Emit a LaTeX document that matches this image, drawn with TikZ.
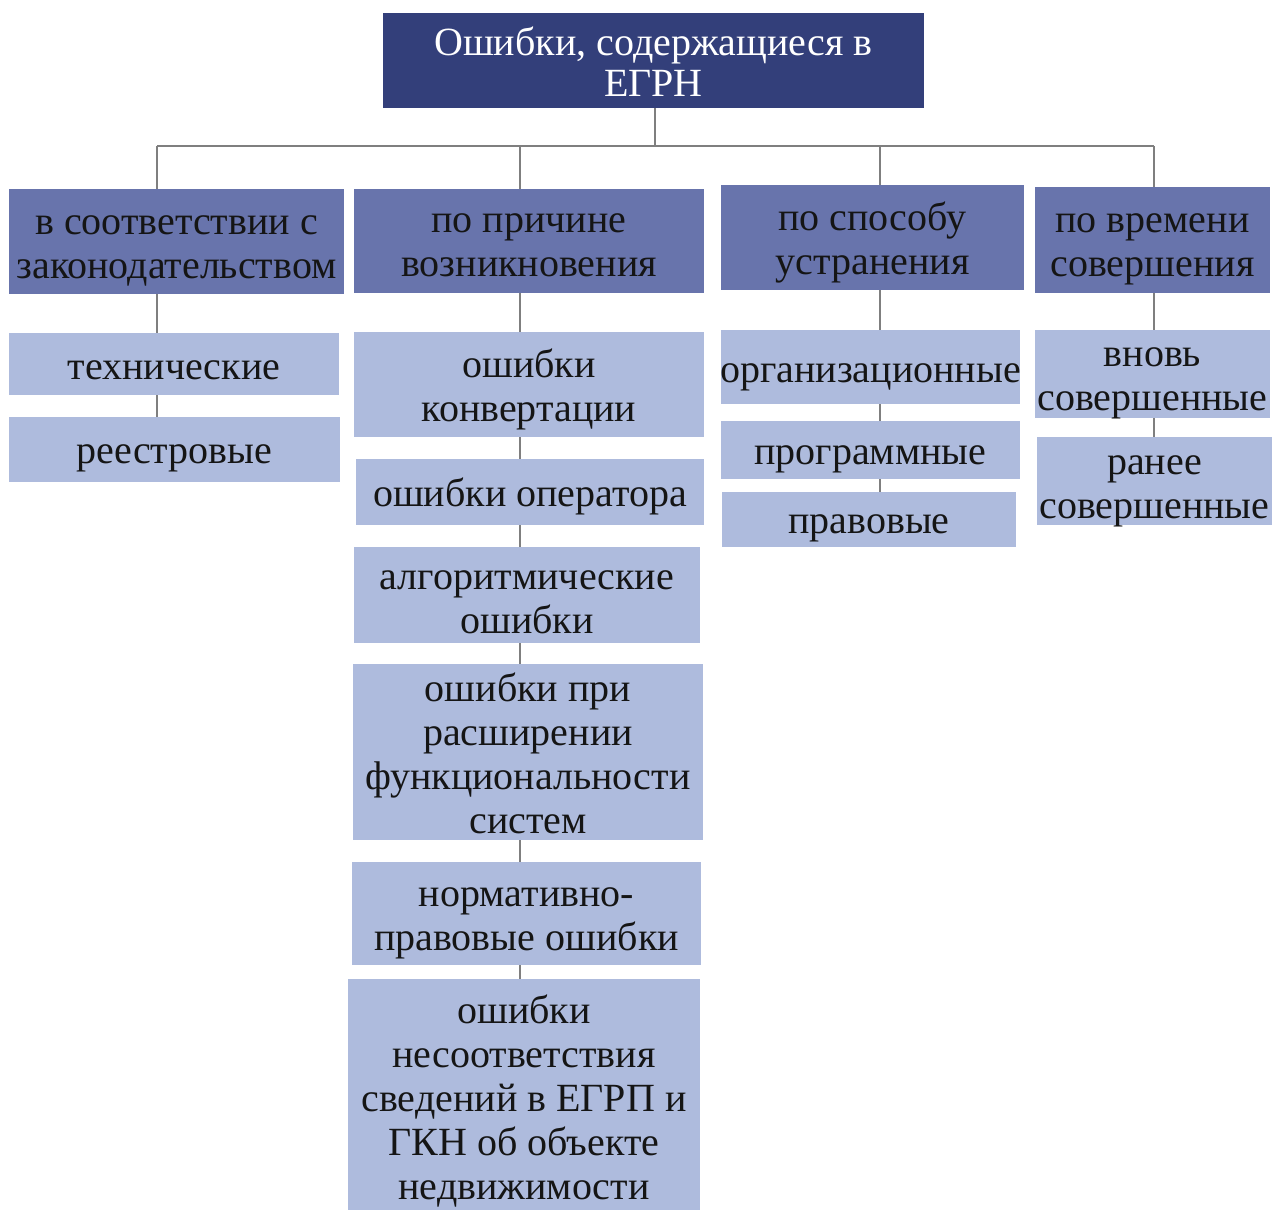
\documentclass[tikz,border=0pt]{standalone}
\usepackage{fontspec}
\setmainfont{Liberation Serif}
\definecolor{topc}{HTML}{333F7A}
\definecolor{catc}{HTML}{6874AC}
\definecolor{subc}{HTML}{AEBBDD}
\definecolor{linec}{HTML}{7F7F7F}
\definecolor{txt}{HTML}{151515}
\tikzset{
  box/.style={rectangle, inner sep=0pt},
  topbox/.style={box, fill=topc},
  catbox/.style={box, fill=catc},
  subbox/.style={box, fill=subc},
  lbl/.style={inner sep=0pt, align=center, text=txt, font=\fontsize{40}{44}\selectfont},
  toplbl/.style={lbl, text=white, font=\fontsize{40}{41}\selectfont},
  conn/.style={draw=linec, line width=1.5pt},
}
% #1 box style, #2 name, #3 x, #4 y, #5 w, #6 h, #7 text shift down, #8 label style, #9 text
\newcommand\mkbox[9]{%
  \node[#1, minimum width=#5pt, minimum height=#6pt] (#2) at (#3,#4) {};
  \node[#8] (#2t) at ([yshift=-#7pt]#2.center) {#9};
}
\begin{document}
\begin{tikzpicture}[x=1pt,y=-1pt]
\useasboundingbox (0,0) rectangle (1273,1210);
% connectors first
\coordinate (b0) at (655,146);
\coordinate (b1) at (157,146);
\coordinate (b2) at (520,146);
\coordinate (b3) at (880,146);
\coordinate (b4) at (1154,146);
\coordinate (e1) at (157,420);
\coordinate (e2) at (520,990);
\coordinate (e3) at (880,500);
\coordinate (e4) at (1154,440);
\coordinate (t0) at (655,100);
\draw[conn] (t0) -- (b0);
\draw[conn] (b1) -- (b4);
\draw[conn] (b1) -- (e1);
\draw[conn] (b2) -- (e2);
\draw[conn] (b3) -- (e3);
\draw[conn] (b4) -- (e4);
% top
\mkbox{topbox}{top}{653.5}{60.5}{541}{95}{1}{toplbl}{Ошибки, содержащиеся в\\ЕГРН}
% categories
\mkbox{catbox}{c1}{176.5}{241.5}{335}{105}{9}{lbl}{в соответствии с\\законодательством}
\mkbox{catbox}{c2}{529}{241}{350}{104}{4}{lbl}{по причине\\возникновения}
\mkbox{catbox}{c3}{872.5}{237.5}{303}{105}{5}{lbl}{по способу\\устранения}
\mkbox{catbox}{c4}{1152.5}{240}{235}{106}{9}{lbl}{по времени\\совершения}
% column 1
\mkbox{subbox}{s11}{174}{364}{330}{62}{6}{lbl}{технические}
\mkbox{subbox}{s12}{174.5}{449.5}{331}{65}{9}{lbl}{реестровые}
% column 2
\mkbox{subbox}{s21}{529}{384.5}{350}{105}{5}{lbl}{ошибки\\конвертации}
\mkbox{subbox}{s22}{530}{492}{348}{66}{4}{lbl}{ошибки оператора}
\mkbox{subbox}{s23}{527}{595}{346}{96}{7}{lbl}{алгоритмические\\ошибки}
\mkbox{subbox}{s24}{528}{752}{350}{176}{1}{lbl}{ошибки при\\расширении\\функциональности\\систем}
\mkbox{subbox}{s25}{526.5}{913.5}{349}{103}{10}{lbl}{нормативно-\\правовые ошибки}
\mkbox{subbox}{s26}{524}{1094.5}{352}{231}{7}{lbl}{ошибки\\несоответствия\\сведений в ЕГРП и\\ГКН об объекте\\недвижимости}
% column 3
\mkbox{subbox}{s31}{870.5}{367}{299}{74}{10}{lbl}{организационные}
\mkbox{subbox}{s32}{870.5}{450}{299}{58}{9}{lbl}{программные}
\mkbox{subbox}{s33}{869}{519.5}{294}{55}{9}{lbl}{правовые}
% column 4
\mkbox{subbox}{s41}{1152.5}{374}{235}{88}{9}{lbl}{вновь\\совершенные}
\mkbox{subbox}{s42}{1154.5}{481}{235}{88}{10}{lbl}{ранее\\совершенные}
\end{tikzpicture}
\end{document}
